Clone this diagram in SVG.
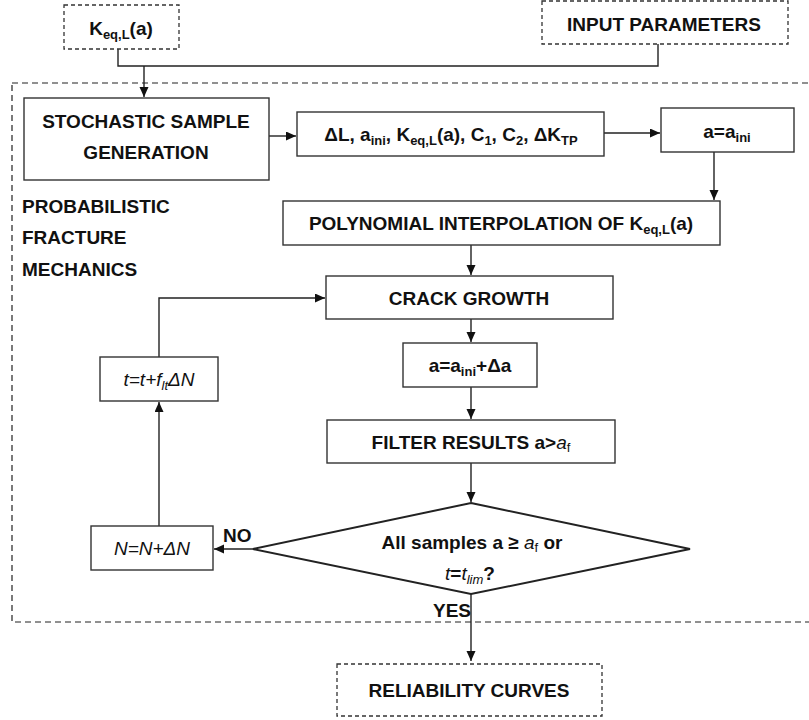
<svg xmlns="http://www.w3.org/2000/svg" width="809" height="720" viewBox="0 0 809 720">
  <defs>
    <marker id="arrow" markerUnits="userSpaceOnUse" markerWidth="11" markerHeight="10" refX="10" refY="4.5" orient="auto">
      <path d="M0,0 L10,4.5 L0,9 z" fill="#111"/>
    </marker>
    <style>
      .box { fill: #fff; stroke: #333; stroke-width: 1.4; }
      .dashbox { fill: #fff; stroke: #333; stroke-width: 1.3; stroke-dasharray: 4 3; }
      .region { fill: none; stroke: #222; stroke-width: 1.2; stroke-dasharray: 6 4; }
      .diamond { fill: #fff; stroke: #222; stroke-width: 2; }
      .conn { fill: none; stroke: #222; stroke-width: 1.4; }
      .arr { marker-end: url(#arrow); }
      text { font-family: "Liberation Sans", Arial, sans-serif; font-weight: bold; font-size: 19px; fill: #111; }
      .c { text-anchor: middle; }
      .sub { font-size: 13px; }
      .it { font-style: italic; font-weight: normal; }
    </style>
  </defs>

  <!-- probabilistic fracture mechanics region -->
  <g id="pfm-region">
    <rect class="region" x="12" y="83" width="800" height="539"/>
    <text x="22" y="213">PROBABILISTIC</text>
    <text x="22" y="244">FRACTURE</text>
    <text x="22" y="276">MECHANICS</text>
  </g>

  <!-- connectors -->
  <g id="connectors">
    <path class="conn" d="M118,49 V66 H658 V44"/>
    <path class="conn arr" d="M144,66 V97"/>
    <path class="conn arr" d="M269,136 H296"/>
    <path class="conn arr" d="M604,133 H660"/>
    <path class="conn arr" d="M714,152 V200"/>
    <path class="conn arr" d="M471,245 V275"/>
    <path class="conn arr" d="M471,319 V342"/>
    <path class="conn arr" d="M471,387 V419"/>
    <path class="conn arr" d="M471,463 V502"/>
    <path class="conn arr" d="M253,549 H214"/>
    <path class="conn arr" d="M159,526 V402"/>
    <path class="conn arr" d="M159,357 V298 H325"/>
    <path class="conn arr" d="M471,594 V661"/>
    <text x="223" y="542">NO</text>
    <text x="433" y="617">YES</text>
  </g>

  <g id="keq-input">
    <rect class="dashbox" x="64" y="5" width="115" height="44"/>
    <text class="c" x="121" y="35">K<tspan class="sub" dy="4">eq,L</tspan><tspan dy="-4">(a)</tspan></text>
  </g>

  <g id="input-parameters">
    <rect class="dashbox" x="542" y="1" width="246" height="43"/>
    <text class="c" x="664" y="31">INPUT PARAMETERS</text>
  </g>

  <g id="stochastic-sample">
    <rect class="box" x="24" y="98" width="245" height="82"/>
    <text class="c" x="146" y="128">STOCHASTIC SAMPLE</text>
    <text class="c" x="146" y="159">GENERATION</text>
  </g>

  <g id="sample-variables">
    <rect class="box" x="297" y="112" width="307" height="44"/>
    <text class="c" x="451" y="141">ΔL, a<tspan class="sub" dy="4">ini</tspan><tspan dy="-4">, K</tspan><tspan class="sub" dy="4">eq,L</tspan><tspan dy="-4">(a), C</tspan><tspan class="sub" dy="4">1</tspan><tspan dy="-4">, C</tspan><tspan class="sub" dy="4">2</tspan><tspan dy="-4">, ΔK</tspan><tspan class="sub" dy="4">TP</tspan></text>
  </g>

  <g id="init-crack">
    <rect class="box" x="661" y="108" width="133" height="44"/>
    <text class="c" x="727" y="138">a=a<tspan class="sub" dy="4">ini</tspan></text>
  </g>

  <g id="polynomial-interpolation">
    <rect class="box" x="283" y="201" width="437" height="44"/>
    <text class="c" x="501" y="230">POLYNOMIAL INTERPOLATION OF K<tspan class="sub" dy="4">eq,L</tspan><tspan dy="-4">(a)</tspan></text>
  </g>

  <g id="crack-growth">
    <rect class="box" x="326" y="276" width="287" height="43"/>
    <text class="c" x="469" y="305">CRACK GROWTH</text>
  </g>

  <g id="crack-update">
    <rect class="box" x="403" y="343" width="134" height="44"/>
    <text class="c" x="470" y="372">a=a<tspan class="sub" dy="4">ini</tspan><tspan dy="-4">+Δa</tspan></text>
  </g>

  <g id="filter-results">
    <rect class="box" x="327" y="420" width="288" height="43"/>
    <text class="c" x="471" y="449">FILTER RESULTS a&gt;<tspan class="it">a</tspan><tspan class="sub" font-weight="normal" dy="3">f</tspan></text>
  </g>

  <g id="decision">
    <polygon class="diamond" points="471,503 690,549 471,594 253,549"/>
    <text class="c" x="472" y="549">All samples a ≥ <tspan class="it">a</tspan><tspan class="sub" font-weight="normal" dy="3">f</tspan><tspan dy="-3"> or</tspan></text>
    <text class="c" x="470" y="580"><tspan class="it">t</tspan>=<tspan class="it">t</tspan><tspan class="it sub" dy="4">lim</tspan><tspan dy="-4">?</tspan></text>
  </g>

  <g id="time-update">
    <rect class="box" x="100" y="357" width="118" height="44"/>
    <text class="c it" x="159" y="386">t=t+f<tspan class="sub" dy="4">lt</tspan><tspan dy="-4">ΔN</tspan></text>
  </g>

  <g id="cycle-update">
    <rect class="box" x="91" y="526" width="122" height="44"/>
    <text class="c it" x="152" y="555">N=N+ΔN</text>
  </g>

  <g id="reliability-curves">
    <rect class="dashbox" x="337" y="664" width="265" height="52"/>
    <text class="c" x="469" y="697">RELIABILITY CURVES</text>
  </g>
</svg>
